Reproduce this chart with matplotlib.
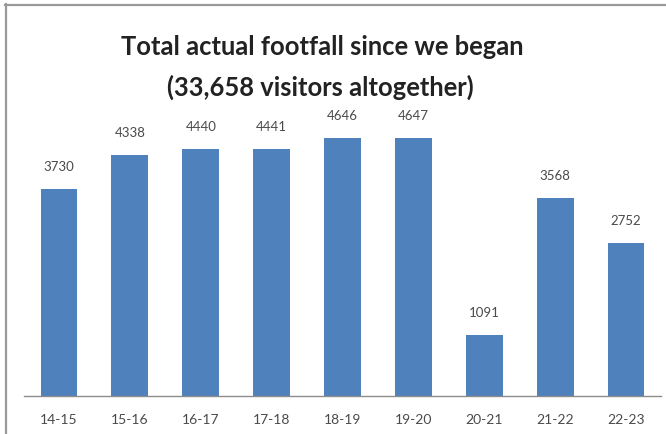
import matplotlib
matplotlib.use("Agg")
import matplotlib.pyplot as plt
from matplotlib.lines import Line2D

seasons = ["14-15", "15-16", "16-17", "17-18", "18-19", "19-20", "20-21", "21-22", "22-23"]
visitors = [3730, 4338, 4440, 4441, 4646, 4647, 1091, 3568, 2752]
title_lines = ["Total actual footfall since we began", "(33,658 visitors altogether)"]

W, H = 666, 434
DPI = 100
BAR_BLUE = "#4F81BD"
TEXT_GREY = "#4a4a4a"
small_font = ["Lato", "DejaVu Sans"]

fig = plt.figure(figsize=(W / DPI, H / DPI), dpi=DPI)
fig.patch.set_facecolor("white")

# plot area in pixel terms: baseline at y=396, 18 visitors per pixel
left_px, right_px = 23.6, 661.4
base_px, top_px = 396, 396 - 5000 / 18
ax = fig.add_axes([left_px / W, (H - base_px) / H,
                   (right_px - left_px) / W, (base_px - top_px) / H])

x = range(len(seasons))
bars = ax.bar(x, visitors, width=0.52, color=BAR_BLUE, zorder=2)
for rect, v in zip(bars, visitors):
    ax.annotate(str(v), (rect.get_x() + rect.get_width() / 2, v),
                xytext=(0, 16), textcoords="offset pixels",
                ha="center", va="bottom", fontsize=9.5, color=TEXT_GREY,
                family=small_font)

ax.set_xlim(-0.5, len(seasons) - 0.5)
ax.set_ylim(0, 5000)
ax.set_xticks(list(x))
ax.set_xticklabels(seasons, fontsize=10, color=TEXT_GREY, family=small_font)
ax.tick_params(axis="x", length=0, pad=13)
ax.set_yticks([])
for side in ("top", "right", "left"):
    ax.spines[side].set_visible(False)
ax.spines["bottom"].set_color("#8c8c8c")
ax.spines["bottom"].set_linewidth(1.0)
ax.patch.set_alpha(0)

title_font = dict(ha="center", va="center", fontsize=18.4, fontweight="bold",
                  family=["Lato", "DejaVu Sans"], color="#222222")
fig.text(322 / W, 1 - 47 / H, title_lines[0], **title_font)
fig.text(320 / W, 1 - 87 / H, title_lines[1], **title_font)

# frame edge along top and left
fig.add_artist(Line2D([5.5 / W, 5.5 / W], [0, 1 - 4 / H], transform=fig.transFigure,
                      color="#9a9a9a", linewidth=1.6))
fig.add_artist(Line2D([5 / W, 1], [1 - 4.5 / H, 1 - 4.5 / H], transform=fig.transFigure,
                      color="#9a9a9a", linewidth=1.6))

fig.savefig("out.png", dpi=DPI)
